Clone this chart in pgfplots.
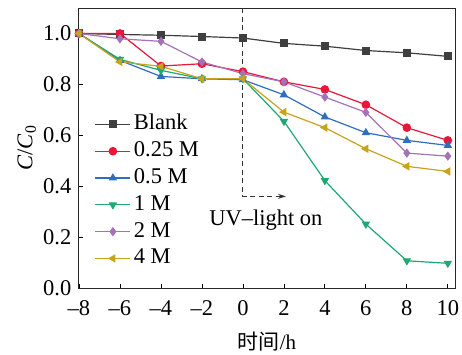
\documentclass[border=0pt]{standalone}
\usepackage{fontspec}
\setmainfont{Liberation Serif}
\newfontfamily\cjk{Noto Sans CJK SC}
\usepackage{pgfplots}
\pgfplotsset{compat=1.18}
\usetikzlibrary{arrows.meta}

\definecolor{cBlank}{HTML}{3F3F3F}
\definecolor{cA}{HTML}{E8173A}
\definecolor{cB}{HTML}{2F6DBE}
\definecolor{cC}{HTML}{1EA872}
\definecolor{cD}{HTML}{A472B8}
\definecolor{cE}{HTML}{C9A21E}

\newcommand\bigfont{\fontsize{22.5}{26}\selectfont}

\begin{document}
\bigfont
\begin{tikzpicture}
\begin{axis}[
  scale only axis,
  width=376pt, height=280pt,
  xmin=-8, xmax=10.35, ymin=0, ymax=1.1,
  xtick={-8,-6,...,10},
  xticklabels={–8,–6,–4,–2,0,2,4,6,8,10},
  ytick={0,0.2,0.4,0.6,0.8,1.0},
  yticklabels={0.0,0.2,0.4,0.6,0.8,1.0},
  tick pos=left, tick align=inside,
  major tick length=4pt,
  tick style={black, line width=0.8pt},
  axis line style={black!85, line width=1pt},
  ticklabel style={font=\bigfont},
  xticklabel style={yshift=-5pt},
  xlabel={{\cjk 时间}/h},
  ylabel={\textit{C}/\textit{C}\textsubscript{0}},
  label style={font=\bigfont},
  xlabel style={at={(axis description cs:0.5,-0.19)}, anchor=center,
    font=\fontsize{21}{24}\selectfont},
  ylabel style={at={(axis description cs:-0.139,0.5)}, anchor=center},
  every axis plot/.append style={line width=1.2pt, mark size=3.7pt, mark options={solid}},
  legend cell align=left,
  legend image code/.code={%
    \draw[mark repeat=2,mark phase=2,#1]
      plot coordinates {(0pt,0pt) (17.5pt,0pt) (35pt,0pt)};},
  legend style={draw=none, fill=none, at={(0.042,0.632)}, anchor=north west,
    font=\bigfont, row sep=0pt, inner sep=0pt, outer sep=0pt,
    nodes={inner sep=2.9pt, text height=16pt, text depth=5pt},
    /tikz/every even column/.append style={column sep=0pt}},
]
\addplot[cBlank, mark=square*, mark size=3.4pt] coordinates {
  (-8,1.000) (-6,0.996) (-4,0.993) (-2,0.988) (0,0.982)
  (2,0.961) (4,0.950) (6,0.933) (8,0.924) (10,0.910)};
\addlegendentry{Blank}
\addplot[cA, mark=*] coordinates {
  (-8,1.000) (-6,1.000) (-4,0.872) (-2,0.881) (0,0.850)
  (2,0.810) (4,0.780) (6,0.720) (8,0.630) (10,0.580)};
\addlegendentry{0.25 M}
\addplot[cB, mark=triangle*] coordinates {
  (-8,1.000) (-6,0.894) (-4,0.831) (-2,0.822) (0,0.818)
  (2,0.759) (4,0.672) (6,0.610) (8,0.580) (10,0.560)};
\addlegendentry{0.5 M}
\addplot[cC, mark=triangle*, mark options={rotate=180}] coordinates {
  (-8,1.000) (-6,0.898) (-4,0.855) (-2,0.822) (0,0.822)
  (2,0.655) (4,0.422) (6,0.251) (8,0.107) (10,0.097)};
\addlegendentry{1 M}
\addplot[cD, mark=diamond*] coordinates {
  (-8,1.000) (-6,0.979) (-4,0.969) (-2,0.888) (0,0.842)
  (2,0.810) (4,0.750) (6,0.690) (8,0.530) (10,0.518)};
\addlegendentry{2 M}
\addplot[cE, mark=triangle*, mark options={rotate=90}] coordinates {
  (-8,1.000) (-6,0.888) (-4,0.871) (-2,0.822) (0,0.822)
  (2,0.691) (4,0.630) (6,0.547) (8,0.478) (10,0.458)};
\addlegendentry{4 M}

% light switched on at t = 0
\draw[black!80, line width=0.9pt, dash pattern=on 5pt off 3.5pt, -{Stealth[length=8pt,width=5pt]}]
  (axis cs:0,1.1) -- (axis cs:0,0.36) -- (axis cs:2.1,0.36);
\node[font=\bigfont] at (axis cs:1.12,0.267) {UV–light on};
\end{axis}
% page margins around the plot area
\pgfresetboundingbox
\path (-79pt,-66pt) rectangle (383pt,288pt);
\end{tikzpicture}
\end{document}
